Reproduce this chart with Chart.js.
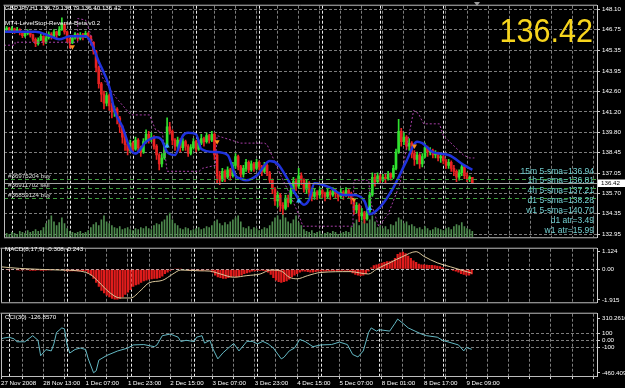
<!DOCTYPE html>
<html><head><meta charset="utf-8">
<script src="https://cdn.jsdelivr.net/npm/chart.js@4.4.0/dist/chart.umd.min.js"></script>
<style>
html,body{margin:0;padding:0;background:#000;width:625px;height:388px;overflow:hidden;}
#wrap{position:relative;width:625px;height:388px;background:#000;}
canvas{position:absolute;left:0;}
.t{position:absolute;white-space:nowrap;font-family:"Liberation Sans",Arial,sans-serif;font-size:6.2px;line-height:8px;color:#fff;}
.cy{position:absolute;right:31px;white-space:nowrap;font-family:"Liberation Sans",Arial,sans-serif;font-size:8.5px;line-height:10px;color:#72cfd0;text-align:right;}
#big{position:absolute;right:32px;top:13px;font-family:"Liberation Sans",Arial,sans-serif;font-size:34px;line-height:34px;color:#f7d51d;transform:scaleX(0.9);transform-origin:right top;white-space:nowrap;}
#shift{position:absolute;left:474px;top:2px;width:0;height:0;border-left:3px solid transparent;border-right:3px solid transparent;border-top:4px solid #9a9a9a;}
</style></head><body>
<div id="wrap">
<canvas id="cMain" width="625" height="243" style="top:0;width:625px;height:243px"></canvas>
<canvas id="cMacd" width="625" height="65" style="top:243px;width:625px;height:65px"></canvas>
<canvas id="cCci" width="625" height="80" style="top:308px;width:625px;height:80px"></canvas>
<div class="t" id="title" style="left:5px;top:4.4px"></div>
<div class="t" id="indName" style="left:5px;top:19.4px"></div>
<div class="t" id="macdName" style="left:5px;top:245.3px"></div>
<div class="t" id="cciName" style="left:5px;top:312.8px"></div>
<div id="big"></div>
<div id="shift"></div>
<div id="mtf"></div>
</div>
<script>
// ================= DATA =================
const symbolTitle = "GBPJPY,H1  136.79 136.79 136.40 136.42";
const indicatorName = "MT4-LevelStop-Reverse-Beta v0.2";
const macdName = "MACD(8,17,9) -0.308 -0.243";
const cciName = "CCI(30) -126.8570";
const bigPrice = "136.42";
const mtfTexts = ["15m 5-sma=136.94","1h 5-sma=136.81","4h 5-sma=137.21","d1 5-sma=138.28","w1 5-sma=140.70","d1 atr=3.49","w1 atr=15.99"];

const timeLabels = ["27 Nov 2008","28 Nov 13:00","1 Dec 07:00","1 Dec 23:00","2 Dec 15:00","3 Dec 07:00","3 Dec 23:00","4 Dec 15:00","5 Dec 07:00","8 Dec 01:00","8 Dec 17:00","9 Dec 09:00"];
const daySeparatorBars = [3,25,49,73,97,121,143,167];

const priceTickLabels = ["148.10","146.75","145.35","143.95","142.60","141.20","139.80","138.45","137.05","135.70","134.35","132.95"];
const macdTickLabels = ["1.124","0.00","-1.915"];
const cciTickLabels = ["310.2616","100","0.00","-100","-460.4091"];

const firstOpen = 146.70;
const closes = [
146.75,146.85,146.70,146.80,146.65,146.75,146.55,146.35,146.50,146.60,
146.40,146.10,145.80,146.05,146.30,145.90,146.20,146.45,146.30,146.60,
146.40,146.75,147.10,146.60,146.10,145.85,146.20,146.45,146.15,146.40,
146.25,146.50,146.30,145.90,145.30,144.20,143.10,142.40,141.80,142.30,
141.60,141.20,141.40,140.80,140.20,139.50,139.00,138.60,139.10,138.70,
139.30,138.80,138.50,139.20,139.70,139.40,139.50,138.90,138.30,137.70,
138.10,138.90,140.20,139.90,139.30,138.90,139.30,138.80,139.20,138.90,
138.40,138.80,139.20,138.70,139.10,139.40,139.20,139.60,139.30,139.70,
138.30,136.90,136.60,137.20,136.80,137.30,136.90,137.60,138.20,137.50,
137.00,137.40,137.80,137.30,137.70,137.40,137.80,137.50,137.20,137.60,
137.10,136.60,136.00,135.20,135.60,134.90,134.70,135.40,135.10,135.90,
136.50,136.20,136.90,136.60,136.00,136.40,135.80,135.50,135.80,135.60,
135.90,135.70,135.50,135.80,135.60,135.90,135.70,135.50,135.80,135.60,
135.90,135.70,135.30,134.60,134.90,134.20,134.40,134.00,134.50,135.60,
136.80,136.50,136.90,136.60,136.80,136.70,137.00,136.80,137.40,138.50,
139.90,139.20,139.50,138.90,139.10,138.40,138.00,138.30,137.70,138.20,
138.80,138.50,138.60,138.30,138.40,138.10,138.20,137.90,137.60,137.80,
137.40,137.20,136.80,137.10,137.50,136.90,136.70,136.79,136.42];
const highs = [
146.95,146.95,146.90,146.95,146.85,146.90,146.80,146.60,146.60,146.75,
146.65,146.45,146.20,146.20,146.45,146.35,146.30,146.60,146.55,146.75,
146.65,146.95,147.55,147.15,146.65,146.20,146.35,146.55,146.50,146.55,
146.50,146.65,146.55,146.35,145.95,145.35,144.30,143.20,142.60,142.50,
142.40,141.80,141.60,141.50,140.90,140.30,139.60,139.10,139.30,139.20,
139.50,139.40,138.90,139.40,140.00,139.90,139.80,139.60,139.00,138.40,
138.40,139.10,140.80,140.50,140.00,139.40,139.50,139.40,139.40,139.30,
139.00,139.00,139.40,139.30,139.30,139.70,139.50,139.80,139.70,139.90,
139.80,138.40,137.20,137.40,137.30,137.50,137.40,137.80,138.40,138.30,
137.60,137.60,138.00,137.90,137.90,137.80,138.00,137.90,137.60,137.80,
137.70,137.20,136.70,136.10,135.80,135.70,135.10,135.60,135.60,136.10,
136.80,136.70,137.40,137.10,136.70,136.60,136.50,136.00,136.00,135.90,
136.10,136.00,135.80,136.00,135.90,136.10,136.00,135.80,136.00,135.90,
136.10,136.00,135.80,135.40,135.10,135.00,134.70,134.50,134.70,135.80,
137.10,137.00,137.10,137.00,137.00,137.00,137.20,137.10,137.60,138.70,
140.70,140.10,139.80,139.60,139.40,139.20,138.60,138.50,138.40,138.40,
139.10,138.90,138.80,138.70,138.60,138.50,138.40,138.30,138.00,138.00,
137.90,137.60,137.30,137.30,137.70,137.60,137.10,136.90,136.79];
const lows = [
146.60,146.65,146.60,146.65,146.50,146.55,146.40,146.20,146.25,146.40,
146.25,145.95,145.60,145.70,146.00,145.70,145.80,146.10,146.10,146.25,
146.20,146.35,146.70,146.45,145.90,145.50,145.80,146.10,146.00,146.05,
146.05,146.20,146.10,145.70,145.10,143.90,142.80,141.90,141.40,141.60,
141.30,140.80,140.90,140.40,139.80,139.10,138.60,138.30,138.50,138.40,
138.60,138.50,138.20,138.40,139.10,139.10,139.20,138.70,138.00,137.30,
137.50,138.00,138.80,139.70,139.00,138.60,138.70,138.50,138.60,138.60,
138.20,138.30,138.70,138.50,138.60,139.00,138.90,139.10,139.10,139.20,
138.00,136.40,136.30,136.50,136.50,136.70,136.60,136.80,137.40,137.30,
136.70,136.80,137.20,137.10,137.20,137.20,137.30,137.30,136.90,137.10,
136.90,136.40,135.70,134.90,134.80,134.50,134.30,134.60,134.80,135.00,
135.70,135.90,136.10,136.30,135.80,135.70,135.50,135.20,135.30,135.30,
135.40,135.40,135.20,135.40,135.30,135.50,135.40,135.20,135.40,135.30,
135.50,135.40,135.00,134.30,134.40,133.80,133.90,133.70,133.90,134.40,
135.50,136.20,136.40,136.40,136.50,136.40,136.60,136.60,136.70,137.30,
138.40,138.90,139.00,138.70,138.60,138.10,137.60,137.70,137.40,137.50,
138.10,138.20,138.30,138.10,138.10,137.90,137.80,137.70,137.40,137.40,
137.20,136.90,136.50,136.60,136.90,136.70,136.50,136.50,136.40];
const volumes = [
300,400,300,500,400,300,600,500,400,700,500,600,800,600,700,
1000,1400,1800,2200,1600,1200,1500,2000,1400,900,
600,500,400,500,600,400,500,700,
1000,1300,1500,1200,1800,2200,1600,1400,
1200,1000,900,1100,800,900,1000,800,
700,900,800,1000,900,1100,900,800,
1200,1400,1300,1600,1800,2200,2500,1800,1400,1200,
900,800,1000,900,700,800,900,1000,800,900,1100,1000,
1200,1600,1800,1400,1200,1500,1300,1600,1800,2000,2200,1600,
1000,900,1100,800,1000,900,700,800,1000,900,
1200,1600,2000,2200,1800,2400,2000,1600,1400,1800,2200,1500,1200,
800,600,500,700,400,500,600,300,400,500,400,600,500,300,400,500,600,500,
1000,1400,1800,1200,1600,2000,1400,1800,2200,1600,
1000,1200,900,1100,800,1300,1200,
1600,2000,1800,1400,1600,1200,1300,1100,
900,1000,800,1100,900,700,800,1000,900,800,700,900,1000,800,
1100,1300,1200,1500,1100,900,800,600];
const macdMain = [
-0.05,-0.04,-0.05,-0.06,-0.05,-0.04,-0.06,-0.08,-0.07,-0.06,
-0.07,-0.09,-0.10,-0.09,-0.07,-0.09,-0.10,-0.08,-0.07,-0.06,
-0.05,-0.04,-0.02,-0.04,-0.08,-0.12,-0.13,-0.12,-0.13,-0.12,
-0.12,-0.11,-0.12,-0.25,-0.40,-0.60,-0.85,-1.10,-1.35,-1.50,
-1.65,-1.75,-1.85,-1.90,-1.90,-1.85,-1.75,-1.60,-1.45,-1.30,
-1.10,-1.00,-0.95,-0.85,-0.75,-0.70,-0.65,-0.62,-0.60,-0.60,
-0.55,-0.45,-0.30,-0.20,-0.10,-0.05,0.02,0.05,0.04,0.00,
-0.03,-0.08,-0.10,-0.10,-0.08,-0.10,-0.10,-0.08,-0.07,-0.06,
-0.20,-0.40,-0.50,-0.55,-0.60,-0.60,-0.55,-0.50,-0.45,-0.50,
-0.45,-0.40,-0.30,-0.25,-0.20,-0.15,-0.12,-0.10,-0.10,-0.10,
-0.12,-0.20,-0.35,-0.55,-0.70,-0.80,-0.85,-0.80,-0.75,-0.65,
-0.50,-0.40,-0.30,-0.20,-0.15,-0.15,-0.18,-0.20,-0.20,-0.18,
-0.15,-0.15,-0.15,-0.14,-0.13,-0.12,-0.12,-0.13,-0.12,-0.10,
-0.10,-0.10,-0.15,-0.25,-0.35,-0.40,-0.42,-0.40,-0.30,-0.15,
0.10,0.25,0.30,0.35,0.40,0.45,0.50,0.50,0.55,0.70,
0.95,1.05,1.10,1.00,0.85,0.70,0.55,0.45,0.35,0.30,
0.30,0.28,0.27,0.27,0.25,0.22,0.18,0.12,0.05,0.00,
-0.05,-0.10,-0.15,-0.20,-0.30,-0.35,-0.40,-0.40,-0.308];
// [bar, value]
const macdSignal = [[0,0.15],[7,0.05],[22,-0.05],[30,-0.12],[34,-0.35],[37,-0.8],[41,-1.45],[45,-1.8],[49,-1.8],[53,-1.3],[56,-0.85],[61,-0.7],[65,-0.3],[68,-0.05],[75,-0.1],[79,-0.12],[83,-0.3],[88,-0.5],[93,-0.4],[98,-0.3],[102,-0.05],[106,-0.12],[109,-0.5],[112,-0.6],[116,-0.4],[121,-0.2],[132,-0.15],[139,-0.3],[142,0.0],[147,0.4],[152,0.8],[157,1.1],[160,0.8],[165,0.4],[170,0.15],[175,-0.1],[178,-0.243]];
const cciValues = [[0,20],[1,31],[3,44],[5,20],[6,-21],[9,-21],[12,65],[14,0],[15,-218],[17,-131],[19,-150],[20,-50],[21,110],[23,175],[24,160],[25,-65],[26,-180],[28,-130],[30,-109],[32,-130],[33,-262],[35,-458],[36,-430],[37,-280],[40,-214],[44,-152],[48,-109],[50,-65],[54,-60],[58,-90],[59,-65],[61,65],[64,88],[67,44],[68,-17],[70,0],[73,-17],[74,44],[76,65],[77,-40],[79,0],[80,-109],[82,-262],[84,-175],[86,-109],[88,-45],[90,-150],[93,-15],[95,-15],[97,-50],[99,-15],[101,-50],[103,-109],[106,-262],[107,-240],[109,-150],[111,-109],[113,12],[115,-17],[118,-90],[121,-65],[125,-60],[128,-25],[131,-60],[133,-200],[135,-235],[137,-150],[139,110],[140,175],[142,130],[143,150],[147,130],[149,240],[150,300],[152,240],[154,175],[159,88],[161,65],[165,44],[167,0],[173,-65],[175,-150],[176,-100],[177,-115],[178,-126.857]];
const smaLine = [[0,146.6],[12,146.6],[17,146.35],[21,146.1],[25,146.3],[31,146.3],[33,145.9],[36,144.6],[40,142.9],[42,141.3],[45,140.2],[48,138.7],[50,138.4],[54,139.2],[58,139.5],[60,139.3],[62,138.5],[65,138.3],[68,139.6],[70,139.8],[73,139.7],[75,138.7],[80,138.5],[85,138.3],[88,136.9],[90,136.7],[92,136.6],[96,136.9],[101,137.9],[104,137.7],[108,136.6],[111,135.6],[114,134.95],[116,135.3],[118,136.4],[124,136.1],[129,135.6],[133,135.6],[137,135.2],[139,134.3],[143,134.8],[148,136.1],[153,137.9],[157,139.2],[159,139.1],[163,138.5],[169,138.3],[175,137.6],[178,137.3]];
const stopReverse = [[0,145.7],[4.2,145.7],[4.2,145.9],[28,145.9],[28,147.5],[31,147.4],[32.6,146.6],[37.5,143.5],[42.4,142.2],[47.7,141.1],[49,141.0],[55.3,141.0],[57.6,140.0],[60.2,139.8],[62,137.2],[74.2,137.2],[75.4,137.4],[80.3,137.6],[81,139.6],[90,139.1],[99,139.1],[100,139.0],[105,137.0],[108,135.9],[112,134.3],[113.6,133.5],[132.6,133.5],[133,136.6],[138.6,136.6],[139.6,135.0],[142.4,133.5],[146,134.3],[150.4,136.3],[155.7,141.3],[157.5,141.1],[159.5,140.4],[165.5,140.4],[167,139.6],[174.6,138.3],[177,138.1],[178.8,138.1]];
const buySignals = [[62,138.9],[112,135.2],[139,134.7]];
const sellSignals = [[26,145.6],[81,139.2],[133,135.3],[156,138.9]];
const orderLevels = [{label:"#36975204 buy",price:136.69},{label:"#36911702 sell",price:136.08},{label:"#36859124 buy",price:135.42}];

// ================= BUILD =================
const FONT = '"Liberation Sans", Arial, sans-serif';
const N = closes.length;
const opens = closes.map((c,i)=> i===0 ? firstOpen : closes[i-1]);
const UP='#2fe02f', DN='#e82222';
const candleColors = closes.map((c,i)=> c>=opens[i] ? UP : DN);
const XMAX = 225.4, GRID_STEP = 8, LABEL_STEP = 16;
const xTicks = []; for(let v=0; v<=XMAX; v+=GRID_STEP) xTicks.push(v);
const pts = arr => arr.map(p=>({x:p[0], y:p[1]}));

document.getElementById('title').textContent = symbolTitle;
document.getElementById('indName').textContent = indicatorName;
document.getElementById('macdName').textContent = macdName;
document.getElementById('cciName').textContent = cciName;
document.getElementById('big').textContent = bigPrice;
const mtf = document.getElementById('mtf');
mtfTexts.forEach((s,k)=>{ const d=document.createElement('div'); d.className='cy'; d.style.top=(165.5+9.85*k)+'px'; d.textContent=s; mtf.appendChild(d); });

const GRID = '#7c7c7c';
function xScale(showLabels){
  return {
    type:'linear', min:0, max:XMAX, offset:false, bounds:'data',
    grid:{color:GRID, lineWidth:1, drawTicks:showLabels, tickLength:3, tickColor:'#cfcfcf', offset:false},
    border:{display:showLabels, color:'#cfcfcf', dash:[3,2]},
    afterBuildTicks: s => { s.ticks = xTicks.map(v=>({value:v})); },
    afterFit: s => { s.height = showLabels ? 12 : 0; },
    ticks:{display:showLabels, autoSkip:false, maxRotation:0, align:'start', padding:1, color:'#fff',
      font:{family:FONT, size:6.2},
      callback: v => (v % LABEL_STEP === 0 && timeLabels[v/LABEL_STEP]) ? timeLabels[v/LABEL_STEP] : ''}
  };
}
function yScale(min,max,labels,gridFn){
  return {
    position:'right', min, max, bounds:'data',
    afterBuildTicks: s => { s.ticks = labels.map(t=>({value:parseFloat(t)})); },
    afterFit: s => { s.width = 28; },
    grid:{color: gridFn, lineWidth:1, tickLength:3, tickColor:'#cfcfcf'},
    border:{display:true, color:'#cfcfcf', dash:[3,2]},
    ticks:{autoSkip:false, color:'#fff', padding:2, font:{family:FONT, size:6.2},
      callback:(v,i)=>labels[i]}
  };
}
const panelFrame = {
  id:'panelFrame',
  beforeDatasetsDraw(chart){
    const {ctx, chartArea:a, scales:{x}} = chart;
    ctx.save();
    ctx.strokeStyle='#ececec'; ctx.lineWidth=1; ctx.setLineDash([3,2]);
    daySeparatorBars.forEach(b=>{
      const px = Math.round(x.getPixelForValue(b))+0.5;
      ctx.beginPath(); ctx.moveTo(px,a.top); ctx.lineTo(px,a.bottom); ctx.stroke();
    });
    ctx.restore();
  },
  afterDraw(chart){
    const {ctx, chartArea:a} = chart;
    ctx.save(); ctx.strokeStyle='#bdbdbd'; ctx.lineWidth=1;
    ctx.beginPath();
    ctx.moveTo(a.left-0.5, a.top-0.5); ctx.lineTo(a.right, a.top-0.5);
    ctx.moveTo(a.left+0.5, a.top); ctx.lineTo(a.left+0.5, a.bottom);
    ctx.moveTo(a.left, a.bottom+0.5); ctx.lineTo(a.right, a.bottom+0.5);
    ctx.stroke(); ctx.restore();
  }
};
const mainExtras = {
  id:'mainExtras',
  afterDatasetsDraw(chart){
    const {ctx, chartArea:a, scales:{y}} = chart;
    ctx.save();
    ctx.font = '6.2px '+FONT; ctx.textBaseline='alphabetic';
    orderLevels.forEach(o=>{
      const py = Math.round(y.getPixelForValue(o.price))+0.5;
      ctx.strokeStyle='#3e9b3e'; ctx.lineWidth=1; ctx.setLineDash([4,3]);
      ctx.beginPath(); ctx.moveTo(a.left,py); ctx.lineTo(a.right,py); ctx.stroke();
      ctx.fillStyle='#dcdcdc'; ctx.fillText(o.label, a.left+4, py-1.5);
    });
    const last = closes[N-1];
    const by = Math.round(y.getPixelForValue(last))+0.5;
    ctx.setLineDash([]); ctx.strokeStyle='#a2a2a2';
    ctx.beginPath(); ctx.moveTo(a.left,by); ctx.lineTo(a.right,by); ctx.stroke();
    ctx.restore();
  },
  afterDraw(chart){
    const {ctx, chartArea:a, scales:{y}} = chart;
    const last = closes[N-1];
    const by = Math.round(y.getPixelForValue(last));
    ctx.save();
    ctx.fillStyle='#fff'; ctx.fillRect(a.right+1, by-3.5, 27, 7.5);
    ctx.fillStyle='#000'; ctx.font='6.2px '+FONT; ctx.textBaseline='middle';
    ctx.fillText(last.toFixed(2), a.right+4, by+0.3);
    ctx.restore();
  }
};
const common = {responsive:false, animation:false, events:[], plugins:{legend:{display:false}, tooltip:{enabled:false}}};

new Chart(document.getElementById('cMain'), {
  type:'line',
  data:{datasets:[
    {type:'bar', order:10, yAxisID:'vol', grouped:false, barThickness:1, backgroundColor:'#4e8a4e',
     data: volumes.map((v,i)=>({x:i,y:v}))},
    {type:'bar', order:6, yAxisID:'y', grouped:false, barThickness:1, backgroundColor:candleColors,
     data: closes.map((c,i)=>({x:i, y:[Math.min(lows[i],opens[i],c), Math.max(highs[i],opens[i],c)]}))},
    {type:'bar', order:5, yAxisID:'y', grouped:false, barThickness:2, minBarLength:1, backgroundColor:candleColors,
     data: closes.map((c,i)=>({x:i, y:[opens[i], c]}))},
    {type:'line', order:3, yAxisID:'y', data: pts(stopReverse), borderColor:'#a63ca6', borderWidth:1, borderDash:[2,2], pointRadius:0, tension:0},
    {type:'line', order:2, yAxisID:'y', data: pts(smaLine), borderColor:'#1f33dd', borderWidth:2.5, pointRadius:0, cubicInterpolationMode:'monotone'},
    {type:'line', order:1, yAxisID:'y', data: pts(buySignals), showLine:false, pointStyle:'triangle', pointRadius:3, backgroundColor:'#3ca6ff', borderWidth:0},
    {type:'line', order:1, yAxisID:'y', data: pts(sellSignals), showLine:false, pointStyle:'triangle', rotation:180, pointRadius:3, backgroundColor:'#ff8f1f', borderWidth:0}
  ]},
  options:Object.assign({}, common, {
    layout:{padding:{left:1, top:3, right:0, bottom:2}},
    scales:{
      x: xScale(false),
      y: yScale(132.753, 148.362, priceTickLabels, ()=>GRID),
      vol:{display:false, min:0, max:23800}
    }
  }),
  plugins:[panelFrame, mainExtras]
});

new Chart(document.getElementById('cMacd'), {
  type:'line',
  data:{datasets:[
    {type:'bar', order:5, grouped:false, barPercentage:0.85, categoryPercentage:1, backgroundColor:'#e01c1c',
     data: macdMain.map((v,i)=>({x:i,y:v}))},
    {type:'line', order:1, data: pts(macdSignal), borderColor:'#d9c79b', borderWidth:1, pointRadius:0, cubicInterpolationMode:'monotone'}
  ]},
  options:Object.assign({}, common, {
    layout:{padding:{left:1, top:0, right:0, bottom:1}},
    scales:{
      x: xScale(false),
      y: yScale(-2.069, 1.283, macdTickLabels, c => (c.tick && c.tick.value===0) ? '#bdbdbd' : 'rgba(0,0,0,0)')
    }
  }),
  plugins:[panelFrame]
});

new Chart(document.getElementById('cCci'), {
  type:'line',
  data:{datasets:[
    {type:'line', data: pts(cciValues), borderColor:'#63b8c3', borderWidth:1, pointRadius:0, tension:0}
  ]},
  options:Object.assign({}, common, {
    layout:{padding:{left:1, top:1, right:0, bottom:0}},
    scales:{
      x: xScale(true),
      y: yScale(-503.9, 375.3, cciTickLabels, c => (c.tick && Math.abs(c.tick.value)<=100) ? GRID : 'rgba(0,0,0,0)')
    }
  }),
  plugins:[panelFrame]
});
</script>
</body></html>
